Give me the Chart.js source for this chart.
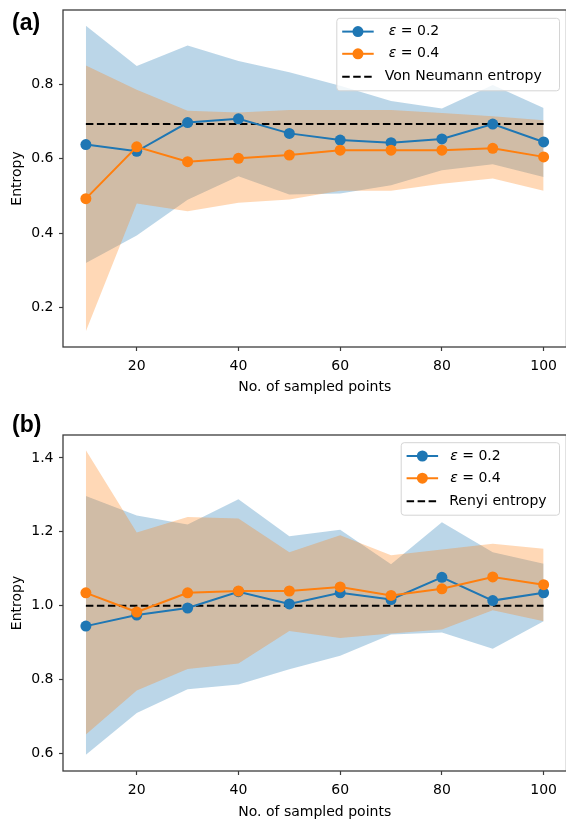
<!DOCTYPE html>
<html>
<head>
<meta charset="utf-8">
<script src="https://cdn.jsdelivr.net/npm/chart.js@4.4.1/dist/chart.umd.min.js"></script>
<style>
  html, body { margin: 0; padding: 0; background: #fff; overflow: hidden; width: 566px; height: 821px; }
  canvas { display: block; }
</style>
</head>
<body>
<canvas id="chartA" width="572" height="400"></canvas>
<canvas id="chartB" width="572" height="421"></canvas>
<script>
/* ==================== DATA ==================== */
const samples = [10, 20, 30, 40, 50, 60, 70, 80, 90, 100];
const xTicks = [20, 40, 60, 80, 100];

// (a) Von Neumann entropy
const vnEps02   = [0.638, 0.620, 0.697, 0.707, 0.668, 0.650, 0.643, 0.653, 0.693, 0.645];
const vnEps02Hi = [0.957, 0.849, 0.904, 0.862, 0.832, 0.796, 0.755, 0.735, 0.798, 0.736];
const vnEps02Lo = [0.320, 0.394, 0.490, 0.553, 0.504, 0.507, 0.529, 0.569, 0.585, 0.551];
const vnEps04   = [0.493, 0.632, 0.592, 0.601, 0.610, 0.623, 0.623, 0.623, 0.628, 0.605];
const vnEps04Hi = [0.850, 0.785, 0.729, 0.724, 0.731, 0.731, 0.731, 0.723, 0.714, 0.703];
const vnEps04Lo = [0.137, 0.480, 0.459, 0.482, 0.491, 0.514, 0.514, 0.533, 0.547, 0.514];
const vnExact = 0.693;
const yTicksA = [0.2, 0.4, 0.6, 0.8];

// (b) Renyi entropy
const rnEps02   = [0.945, 0.975, 0.994, 1.038, 1.005, 1.035, 1.017, 1.077, 1.014, 1.035];
const rnEps02Hi = [1.297, 1.244, 1.220, 1.288, 1.188, 1.206, 1.112, 1.226, 1.145, 1.114];
const rnEps02Lo = [0.597, 0.710, 0.774, 0.787, 0.828, 0.865, 0.922, 0.928, 0.884, 0.958];
const rnEps04   = [1.035, 0.983, 1.035, 1.040, 1.040, 1.051, 1.028, 1.046, 1.078, 1.057];
const rnEps04Hi = [1.421, 1.198, 1.240, 1.236, 1.145, 1.191, 1.137, 1.152, 1.168, 1.154];
const rnEps04Lo = [0.652, 0.771, 0.829, 0.844, 0.932, 0.913, 0.925, 0.936, 0.988, 0.958];
const rnExact = 1.0;
const yTicksB = [0.6, 0.8, 1.0, 1.2, 1.4];

/* ==================== STYLE ==================== */
const BLUE = '#1f77b4';
const ORANGE = '#ff7f0e';
const BLUE_BAND = 'rgba(31,119,180,0.3)';
const ORANGE_BAND = 'rgba(255,127,14,0.3)';
const DASH = [7.5, 3.5];

Chart.defaults.font.family = '"DejaVu Sans", sans-serif';
Chart.defaults.font.size = 14;
Chart.defaults.color = '#000';

function pts(ys) {
    return samples.map((x, i) => ({ x: x, y: ys[i] }));
}

function band(lo, hi, color, order) {
    return [
        { data: pts(lo), borderWidth: 0, borderColor: 'transparent', pointRadius: 0, fill: false, order: order },
        { data: pts(hi), borderWidth: 0, borderColor: 'transparent', pointRadius: 0, fill: '-1', backgroundColor: color, order: order },
    ];
}

function series(ys, color, order) {
    return {
        data: pts(ys), borderColor: color, backgroundColor: color, borderWidth: 2,
        pointRadius: 5.5, pointBorderWidth: 0, pointBackgroundColor: color, fill: false, order: order,
    };
}

function refLine(v) {
    return {
        data: pts(samples.map(() => v)), borderColor: '#000', borderWidth: 2, borderDash: DASH,
        pointRadius: 0, fill: false, order: 2,
    };
}

/* ==================== FRAME, TAG, LEGEND ==================== */
const panelPlugin = {
    id: 'panel',
    afterDraw(chart, args, opts) {
        const ctx = chart.ctx;
        const a = chart.chartArea;
        ctx.save();
        // spines
        ctx.strokeStyle = '#3c3c3c';
        ctx.lineWidth = 1.3;
        ctx.strokeRect(a.left, a.top, a.right - a.left, a.bottom - a.top);

        // panel tag
        ctx.fillStyle = '#000';
        ctx.font = 'bold 23px "Liberation Sans", Arial, sans-serif';
        ctx.textBaseline = 'middle';
        ctx.textAlign = 'left';
        ctx.fillText(opts.tag, 12, opts.tagY);

        // legend box
        const right = a.right - 7;
        const left = right - opts.legendWidth;
        const top = a.top + opts.legendTop;
        const h = 72.5;
        ctx.fillStyle = 'rgba(255,255,255,0.8)';
        ctx.strokeStyle = '#d4d4d4';
        ctx.lineWidth = 1;
        ctx.beginPath();
        ctx.roundRect(left, top, right - left, h, 3);
        ctx.fill();
        ctx.stroke();

        const rows = [13.3, 35.5, 58.5];
        const hx0 = left + 5.4, hx1 = hx0 + 31.5;
        const textX = left + 48;
        opts.items.forEach((it, i) => {
            const y = top + rows[i];
            ctx.strokeStyle = it.color;
            ctx.lineWidth = 2;
            ctx.setLineDash(it.dashed ? DASH : []);
            ctx.beginPath();
            ctx.moveTo(hx0, y);
            ctx.lineTo(hx1, y);
            ctx.stroke();
            ctx.setLineDash([]);
            if (!it.dashed) {
                ctx.fillStyle = it.color;
                ctx.beginPath();
                ctx.arc((hx0 + hx1) / 2, y, 5.5, 0, Math.PI * 2);
                ctx.fill();
            }
            ctx.fillStyle = '#000';
            ctx.textBaseline = 'middle';
            if (it.label.startsWith('ε')) {
                const x0 = textX + opts.epsIndent;
                ctx.font = 'italic 14px "DejaVu Sans", sans-serif';
                ctx.fillText('ε', x0, y);
                const w = ctx.measureText('ε').width;
                ctx.font = '14px "DejaVu Sans", sans-serif';
                ctx.fillText(it.label.slice(1), x0 + w, y);
            } else {
                ctx.font = '14px "DejaVu Sans", sans-serif';
                ctx.fillText(it.label, textX, y);
            }
        });
        ctx.restore();
    },
};

/* ==================== CHARTS ==================== */
function makeChart(id, cfg) {
    const tickGrid = {
        display: true, drawOnChartArea: false, drawTicks: true,
        tickLength: 4, tickColor: '#3c3c3c', tickWidth: 1.2,
    };
    return new Chart(document.getElementById(id), {
        type: 'line',
        data: {
            datasets: [
                series(cfg.eps04, ORANGE, 0),
                series(cfg.eps02, BLUE, 1),
                refLine(cfg.exact),
                ...band(cfg.eps04Lo, cfg.eps04Hi, ORANGE_BAND, 3),
                ...band(cfg.eps02Lo, cfg.eps02Hi, BLUE_BAND, 4),
            ],
        },
        options: {
            responsive: false,
            animation: false,
            devicePixelRatio: 1,
            layout: { padding: { top: cfg.padTop, right: 1, left: 0, bottom: 0 } },
            plugins: {
                legend: { display: false },
                tooltip: { enabled: false },
                panel: cfg.panel,
            },
            scales: {
                x: {
                    type: 'linear', min: 5.5, max: 104.5,
                    afterBuildTicks: (s) => { s.ticks = xTicks.map((v) => ({ value: v })); },
                    afterFit: (s) => { s.height = cfg.xHeight; s.paddingLeft = 0; s.paddingRight = 0; },
                    grid: tickGrid,
                    border: { display: false },
                    ticks: { padding: 7, maxRotation: 0, color: '#000' },
                    title: { display: true, text: 'No. of sampled points', color: '#000', padding: { top: 0, bottom: cfg.xTitlePad } },
                },
                y: {
                    type: 'linear', min: cfg.yMin, max: cfg.yMax,
                    afterBuildTicks: (s) => { s.ticks = cfg.yTicks.map((v) => ({ value: v })); },
                    afterFit: (s) => { s.width = 63; s.paddingTop = 0; s.paddingBottom = 0; },
                    grid: tickGrid,
                    border: { display: false },
                    ticks: { padding: 5.5, color: '#000', callback: (v) => Number(v).toFixed(1) },
                    title: { display: true, text: 'Entropy', color: '#000', padding: { top: 8.5, bottom: 0 } },
                },
            },
        },
        plugins: [panelPlugin],
    });
}

makeChart('chartA', {
    eps02: vnEps02, eps02Lo: vnEps02Lo, eps02Hi: vnEps02Hi,
    eps04: vnEps04, eps04Lo: vnEps04Lo, eps04Hi: vnEps04Hi,
    exact: vnExact, yTicks: yTicksA, yMin: 0.095, yMax: 0.999,
    padTop: 10, xHeight: 53, xTitlePad: 4.5,
    panel: {
        tag: '(a)', tagY: 23.5, legendWidth: 222.7, legendTop: 8.3, epsIndent: 4,
        items: [
            { label: 'ε = 0.2', color: BLUE },
            { label: 'ε = 0.4', color: ORANGE },
            { label: 'Von Neumann entropy', color: '#000', dashed: true },
        ],
    },
});

makeChart('chartB', {
    eps02: rnEps02, eps02Lo: rnEps02Lo, eps02Hi: rnEps02Hi,
    eps04: rnEps04, eps04Lo: rnEps04Lo, eps04Hi: rnEps04Hi,
    exact: rnExact, yTicks: yTicksB, yMin: 0.553, yMax: 1.462,
    padTop: 35, xHeight: 50, xTitlePad: 0.5,
    panel: {
        tag: '(b)', tagY: 25.5, legendWidth: 158.3, legendTop: 7.7, epsIndent: 1,
        items: [
            { label: 'ε = 0.2', color: BLUE },
            { label: 'ε = 0.4', color: ORANGE },
            { label: 'Renyi entropy', color: '#000', dashed: true },
        ],
    },
});
</script>
</body>
</html>
